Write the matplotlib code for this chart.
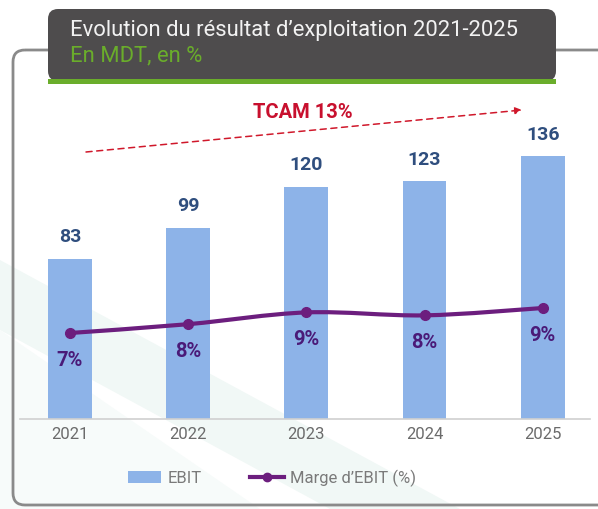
import matplotlib
matplotlib.use("Agg")
import matplotlib.pyplot as plt
from matplotlib.patches import FancyBboxPatch, Rectangle, Polygon, PathPatch
from matplotlib.path import Path
from matplotlib.lines import Line2D
import numpy as np

years = ["2021", "2022", "2023", "2024", "2025"]
ebit = [83, 99, 120, 123, 136]
margin = [7.2, 7.8, 8.6, 8.4, 8.9]
title = "Evolution du résultat d\u2019exploitation 2021-2025"
subtitle = "En MDT, en %"
cagr_label = "TCAM 13%"
legend_labels = ["EBIT", "Marge d\u2019EBIT (%)"]

W, H = 598, 509
fig = plt.figure(figsize=(W / 100, H / 100), dpi=100)
fig.patch.set_facecolor("white")

def fx(px):
    return px / W

def fy(py):
    return 1 - py / H

# background layer
bg = fig.add_axes([0, 0, 1, 1])
bg.set_xlim(0, W)
bg.set_ylim(H, 0)
bg.axis("off")
# faint watermark shapes
bg.add_patch(Polygon([[0, 260], [0, 330], [330, 509], [460, 509]], closed=True,
                     facecolor="#F1F8F6", edgecolor="none", zorder=0))
bg.add_patch(Polygon([[0, 330], [0, 509], [260, 509]], closed=True,
                     facecolor="#F7FBFA", edgecolor="none", zorder=0))
# outer frame
bg.add_patch(FancyBboxPatch((13, 50), 600, 455, boxstyle="round,pad=0,rounding_size=12",
                            facecolor="none", edgecolor="#8A8A8A", lw=2, zorder=1))
# title box
bg.add_patch(FancyBboxPatch((48, 9), 508, 72, boxstyle="round,pad=0,rounding_size=10",
                            facecolor="#4E4C4D", edgecolor="none", zorder=2))
bg.add_patch(Rectangle((48, 79), 508, 5, facecolor="#6AAD2B", edgecolor="none", zorder=3))
bg.text(70, 30, title, color="#F2F2F2", fontsize=15.8, family="Roboto",
        va="center", ha="left", zorder=4)
bg.text(70, 56, subtitle, color="#6AAD2B", fontsize=15.8, family="Roboto",
        va="center", ha="left", zorder=4)

# main axes
ax = fig.add_axes([fx(20), fy(419), fx(570), (419 - 100) / H])
ax.patch.set_alpha(0)
x = np.arange(len(years))
ax.bar(x, ebit, width=0.37, color="#8DB3E8", zorder=2)
ax.set_xlim(-0.423, 4.40)
ax.set_ylim(0, 165)
for s in ["top", "right", "left"]:
    ax.spines[s].set_visible(False)
ax.spines["bottom"].set_color("#D0D0D0")
ax.spines["bottom"].set_linewidth(1.2)
ax.set_yticks([])
ax.set_xticks(x)
ax.set_xticklabels(years, fontsize=12, color="#6B6B6B", family="Roboto")
ax.tick_params(axis="x", length=0, pad=6)
for xi, v in zip(x, ebit):
    ax.annotate(str(v), (xi, v), xytext=(0, 9), textcoords="offset points",
                ha="center", va="bottom", fontsize=14, fontweight="bold",
                color="#2F4E7E", family="Roboto")

ax2 = ax.twinx()
ax2.set_ylim(1.35, 23.05)
ax2.axis("off")
# smooth curve through margin points
pts = np.column_stack([x, margin]).astype(float)
verts = [tuple(pts[0])]
codes = [Path.MOVETO]
n = len(pts)
for i in range(n - 1):
    p0 = pts[i - 1] if i > 0 else pts[i]
    p1 = pts[i]
    p2 = pts[i + 1]
    p3 = pts[i + 2] if i + 2 < n else pts[i + 1]
    c1 = p1 + (p2 - p0) / 6
    c2 = p2 - (p3 - p1) / 6
    verts += [tuple(c1), tuple(c2), tuple(p2)]
    codes += [Path.CURVE4] * 3
ax2.add_patch(PathPatch(Path(verts, codes), facecolor="none", edgecolor="#6C1E7E",
                        lw=3, zorder=3, capstyle="round"))
ax2.plot(x, margin, linestyle="none", marker="o", markersize=7, color="#6C1E7E", zorder=4)
for xi, m in zip(x, margin):
    ax2.annotate(f"{round(m)}%", (xi, m), xytext=(0, -13), textcoords="offset points",
                 ha="center", va="top", fontsize=14.5, fontweight="bold",
                 color="#4A1A78", family="Roboto")

# CAGR arrow
bg.annotate("", xy=(522, 110), xytext=(86, 152),
            arrowprops=dict(arrowstyle="-|>", color="#D0182B", lw=1.1, linestyle=(0, (4, 3)),
                            mutation_scale=10, shrinkA=0, shrinkB=0), zorder=5)
bg.text(303, 112, cagr_label, color="#C8102E", fontsize=14.5, fontweight="bold",
        family="Roboto", ha="center", va="center", zorder=5)

# legend
handles = [Rectangle((0, 0), 1, 1, facecolor="#8DB3E8", edgecolor="none"),
           Line2D([], [], color="#6C1E7E", lw=3, marker="o", markersize=6)]
fig.legend(handles, legend_labels, loc="center", bbox_to_anchor=(fx(272), fy(478)),
           ncol=2, frameon=False, labelcolor="#7A7A7A",
           prop={"family": "Roboto", "size": 12}, handlelength=2.0, handleheight=0.8,
           columnspacing=2.9, handletextpad=0.4)

fig.savefig("out.png", dpi=100)
